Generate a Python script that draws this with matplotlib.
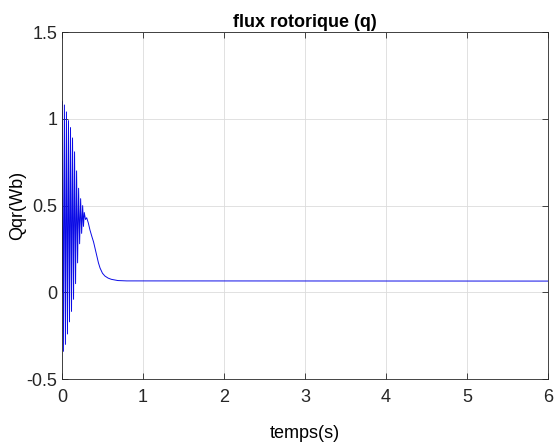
import matplotlib
matplotlib.use("Agg")
import matplotlib.pyplot as plt

# flux rotorique q axis
# start + oscillation peaks / troughs (alternating)
t_osc = [0.0, 0.005, 0.0175, 0.03, 0.0425, 0.055, 0.0675, 0.08, 0.0925,
         0.105, 0.1175, 0.13, 0.1425, 0.155, 0.1675, 0.18, 0.1925,
         0.205, 0.2175, 0.23, 0.2425, 0.255, 0.265, 0.275]
q_osc = [0.0, 1.10, -0.34, 1.08, -0.30, 1.04, -0.24, 0.99, -0.17,
         0.95, -0.11, 0.89, -0.04, 0.81, 0.05, 0.70, 0.17,
         0.60, 0.28, 0.54, 0.34, 0.50, 0.38, 0.46]
# slow decay after the oscillation
t_tail = [0.29, 0.305, 0.325, 0.345, 0.37, 0.39, 0.41, 0.43, 0.45, 0.47,
          0.50, 0.53, 0.57, 0.61, 0.69, 0.80, 6.0]
q_tail = [0.42, 0.43, 0.40, 0.36, 0.32, 0.29, 0.25, 0.21, 0.17, 0.14,
          0.11, 0.094, 0.082, 0.075, 0.068, 0.066, 0.065]

xticks = [0, 1, 2, 3, 4, 5, 6]
yticks = [-0.5, 0, 0.5, 1, 1.5]

plt.rcParams['font.family'] = ['Liberation Sans', 'DejaVu Sans']

fig = plt.figure(figsize=(5.56, 4.46), dpi=100)
ax = fig.add_axes([0.1115, 0.150, 0.874, 0.778])

ax.plot(t_osc + t_tail, q_osc + q_tail, color='#0a0ae6', linewidth=0.7)

ax.set_xlim(0, 6)
ax.set_ylim(-0.5, 1.5)
ax.set_xticks(xticks)
ax.set_yticks(yticks)
ax.set_xticklabels([str(v) for v in xticks])
ax.set_yticklabels(['-0.5', '0', '0.5', '1', '1.5'])
ax.grid(True, color='#dcdcdc', linewidth=0.6)
ax.tick_params(direction='in', top=True, right=True, labelsize=13,
               colors='#262626', length=4, width=0.6)
ax.tick_params(axis='x', pad=7)
for s in ax.spines.values():
    s.set_color('#262626')
    s.set_linewidth(0.6)

ax.set_title('flux rotorique (q)', fontsize=13, fontweight='bold', pad=4)
ax.set_xlabel('temps(s)', fontsize=13, labelpad=14)
ax.set_ylabel('Qqr(Wb)', fontsize=13, labelpad=0)

fig.savefig('out.png', dpi=100)
